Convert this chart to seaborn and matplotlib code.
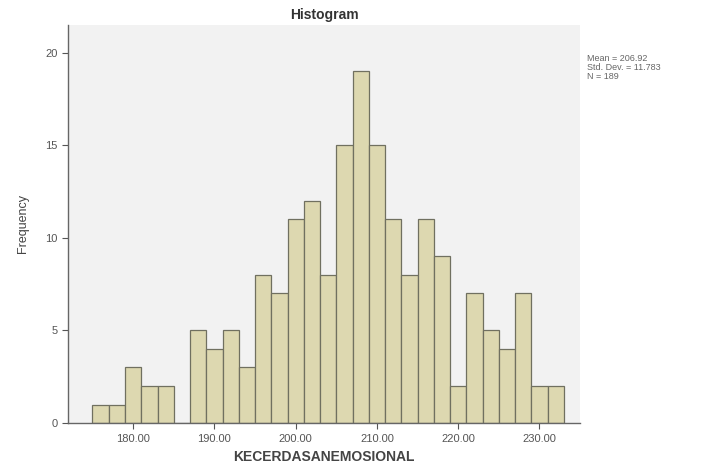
import numpy as np
import seaborn as sns
import matplotlib.pyplot as plt

# bin counts (bins of width 2 starting at 175)
bin_starts = [175, 177, 179, 181, 183, 185, 187, 189, 191, 193, 195, 197, 199, 201, 203,
              205, 207, 209, 211, 213, 215, 217, 219, 221, 223, 225, 227, 229, 231]
counts = [1, 1, 3, 2, 2, 0, 5, 4, 5, 3, 8, 7, 11, 12, 8,
          15, 19, 15, 11, 8, 11, 9, 2, 7, 5, 4, 7, 2, 2]
x_ticks = [180, 190, 200, 210, 220, 230]
y_ticks = [0, 5, 10, 15, 20]
stats_text = "Mean = 206.92\nStd. Dev. = 11.783\nN = 189"

sns.set_style("white")
plt.rcParams['font.family'] = ['Liberation Sans', 'DejaVu Sans']

fig = plt.figure(figsize=(7.17, 4.68), dpi=100)
ax = fig.add_axes([0.095, 0.096, 0.714, 0.851])
ax.set_facecolor('#f2f2f2')

centers = np.array(bin_starts) + 1
edges = list(bin_starts) + [bin_starts[-1] + 2]
sns.histplot(x=centers, weights=counts, bins=edges, ax=ax,
             color='#ddd8b0', edgecolor='#707060', linewidth=0.9, alpha=1)

ax.set_xlim(172, 235)
ax.set_ylim(0, 21.5)
ax.set_xticks(x_ticks)
ax.set_xticklabels([f"{t:.2f}" for t in x_ticks])
ax.set_yticks(y_ticks)
ax.tick_params(axis='both', direction='out', length=4, width=0.8,
               bottom=True, left=True,
               colors='#555555', labelsize=8, labelcolor='#555555')
ax.tick_params(axis='x', pad=4)

for s in ['top', 'right']:
    ax.spines[s].set_visible(False)
for s in ['left', 'bottom']:
    ax.spines[s].set_color('#666666')
    ax.spines[s].set_linewidth(1.0)

ax.set_xlabel("KECERDASANEMOSIONAL", fontsize=10, fontweight='bold', color='#444444', labelpad=4)
ax.set_ylabel("Frequency", fontsize=9, color='#444444', labelpad=12)
ax.set_title("Histogram", fontsize=10, fontweight='bold', color='#333333', pad=4)

fig.text(0.818, 0.885, stats_text, fontsize=6.5, color='#666666', va='top', ha='left',
         linespacing=1.0)

fig.savefig("out.png", dpi=100)
